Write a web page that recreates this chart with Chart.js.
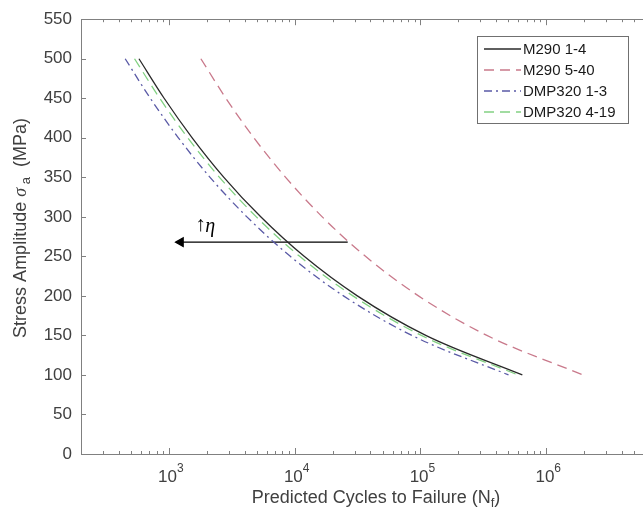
<!DOCTYPE html>
<html>
<head>
<meta charset="utf-8">
<script src="https://cdn.jsdelivr.net/npm/chart.js@4.4.1/dist/chart.umd.min.js"></script>
<style>
html,body{margin:0;padding:0;background:#fff;overflow:hidden;}
#wrap{width:700px;height:518px;}
</style>
</head>
<body>
<div id="wrap"><canvas id="sn" width="700" height="518"></canvas></div>
<script>
// stress levels (MPa)
const stress = [500, 450, 400, 350, 300, 250, 200, 150, 100];
// predicted cycles to failure
const m290a = [578, 916, 1531, 2735, 5370, 11890, 31480, 110200, 645700];
const m290b = [1795, 2838, 4732, 8472, 16560, 36560, 96400, 337300, 1963000];
const dmpA  = [449, 711, 1189, 2123, 4169, 9226, 24430, 85500, 501200];
const dmpB  = [533, 845, 1413, 2523, 4955, 10960, 29040, 101600, 595700];
const names = ['M290 1-4', 'M290 5-40', 'DMP320 1-3', 'DMP320 4-19'];

// x axis decades shown as 10^n
const xDecades = [3, 4, 5, 6, 7];

// arrow annotation
const arrowN = [26400, 1240];
const arrowS = 268;
const noteN = 1650, noteS = 289;

const pts = arr => arr.map((n, i) => ({x: n, y: stress[i]}));
const AXIS = '#808080', TXT = '#404040';
const FONT = '"Liberation Sans", Arial, sans-serif';
const SERIF = '"Liberation Serif", serif';

// draw a run of text pieces (for sub/superscripts), centred on x
function drawParts(ctx, parts, x, y) {
  const f = p => (p[3] ? 'italic ' : '') + p[1] + 'px ' + (p[4] || FONT);
  let w = 0;
  parts.forEach(p => { ctx.font = f(p); w += ctx.measureText(p[0]).width; });
  let cx = x - w / 2;
  parts.forEach(p => {
    ctx.font = f(p);
    ctx.fillText(p[0], cx, y + p[2]);
    cx += ctx.measureText(p[0]).width;
  });
}

const frame = {
  id: 'frame',
  afterDraw(chart) {
    const ctx = chart.ctx, a = chart.chartArea;
    const xs = chart.scales.x, ys = chart.scales.y;
    ctx.save();
    ctx.strokeStyle = AXIS; ctx.lineWidth = 1;
    ctx.strokeRect(Math.round(a.left) + 0.5, Math.round(a.top) + 0.5,
                   Math.round(a.right - a.left), Math.round(a.bottom - a.top));

    // inward ticks, bottom/top and left/right
    ctx.beginPath();
    for (let d = 2; d <= 7; d++) {
      for (let m = 1; m <= 9; m++) {
        const v = m * Math.pow(10, d);
        if (v < xs.min || v > xs.max) continue;
        const px = Math.round(xs.getPixelForValue(v)) + 0.5;
        const len = m === 1 ? 6 : 3;
        ctx.moveTo(px, a.bottom); ctx.lineTo(px, a.bottom - len);
        ctx.moveTo(px, a.top); ctx.lineTo(px, a.top + len);
      }
    }
    for (let v = 0; v <= 550; v += 50) {
      const py = Math.round(ys.getPixelForValue(v)) + 0.5;
      ctx.moveTo(a.left, py); ctx.lineTo(a.left + 5, py);
      ctx.moveTo(a.right, py); ctx.lineTo(a.right - 5, py);
    }
    ctx.stroke();

    // x tick labels 10^n
    ctx.fillStyle = TXT; ctx.textBaseline = 'middle'; ctx.textAlign = 'left';
    xDecades.forEach(d => {
      const px = xs.getPixelForValue(Math.pow(10, d));
      drawParts(ctx, [['10', 17, 0], [String(d), 12, -8]], px + 2, 477);
    });

    // axis titles
    drawParts(ctx, [['Predicted Cycles to Failure (N', 18, 0], ['f', 13, 5], [')', 18, 0]], 376, 498);
    ctx.save();
    ctx.translate(21, 228); ctx.rotate(-Math.PI / 2);
    drawParts(ctx, [['Stress Amplitude ', 18, 0], ['\u03c3', 18, 0, true, SERIF],
                    [' a', 13, 5], ['  (MPa)', 18, 0]], 0, 0);
    ctx.restore();

    // note
    const nx = xs.getPixelForValue(noteN), ny = ys.getPixelForValue(noteS);
    ctx.fillStyle = '#000';
    ctx.font = '21px ' + SERIF;
    ctx.fillText('\u2191', nx - 1, ny);
    ctx.font = 'italic 20px ' + SERIF;
    ctx.fillText('\u03b7', nx + 9, ny + 1);

    // legend
    const lx = 477, ly = 36, lw = 151, lh = 87;
    ctx.fillStyle = '#fff'; ctx.fillRect(lx, ly, lw, lh);
    ctx.strokeStyle = '#707070'; ctx.strokeRect(lx + 0.5, ly + 0.5, lw, lh);
    ctx.font = '15px ' + FONT; ctx.fillStyle = '#1a1a1a';
    chart.data.datasets.slice(0, 4).forEach((ds, i) => {
      const ry = ly + 13 + i * 21;
      ctx.save();
      ctx.strokeStyle = ds.borderColor; ctx.lineWidth = ds.borderWidth;
      ctx.setLineDash(ds.borderDash || []);
      ctx.beginPath(); ctx.moveTo(lx + 7, ry); ctx.lineTo(lx + 44, ry); ctx.stroke();
      ctx.restore();
      ctx.fillText(ds.label, lx + 46, ry + 1);
    });
    ctx.restore();
  }
};

new Chart(document.getElementById('sn'), {
  type: 'line',
  data: {
    datasets: [
      {label: names[0], data: pts(m290a), borderColor: '#2a2a2a', borderWidth: 1.3},
      {label: names[1], data: pts(m290b), borderColor: '#c9798b', borderWidth: 1.3, borderDash: [10, 6]},
      {label: names[2], data: pts(dmpA), borderColor: '#5a5aa6', borderWidth: 1.3, borderDash: [8, 4, 2, 4]},
      {label: names[3], data: pts(dmpB), borderColor: '#82d182', borderWidth: 1.3, borderDash: [10, 6]},
      {label: 'arrow', data: arrowN.map(n => ({x: n, y: arrowS})), borderColor: '#000', borderWidth: 1.3,
       pointRadius: [0, 5], pointStyle: 'triangle', pointRotation: [0, -90],
       pointBackgroundColor: '#000', pointBorderColor: '#000', cubicInterpolationMode: 'default'}
    ]
  },
  options: {
    responsive: false, animation: false,
    layout: {padding: {left: 0, top: 17, right: 28, bottom: 0}},
    elements: {point: {radius: 0}, line: {cubicInterpolationMode: 'monotone', fill: false}},
    plugins: {legend: {display: false}, tooltip: {enabled: false}},
    scales: {
      x: {type: 'logarithmic', min: 200, max: 1e7,
          grid: {display: false}, border: {display: false}, ticks: {display: false},
          afterFit: s => { s.height = 64; }},
      y: {min: 0, max: 550,
          grid: {display: false, drawTicks: false}, border: {display: false},
          ticks: {stepSize: 50, padding: 9, color: TXT, font: {size: 17, family: FONT}},
          afterFit: s => { s.width = 81; }}
    }
  },
  plugins: [frame]
});
</script>
</body>
</html>
